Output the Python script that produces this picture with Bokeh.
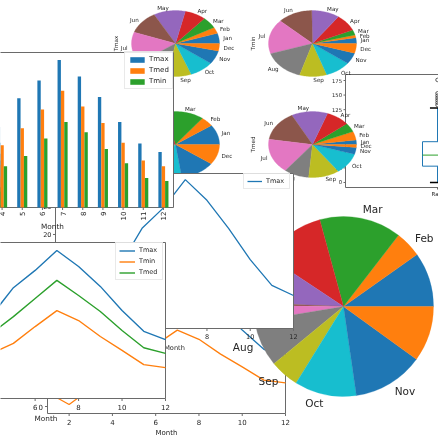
import numpy as np
from bokeh.plotting import figure
from bokeh.models import Range1d, Legend, LegendItem
from bokeh.core.properties import value
from bokeh.embed import file_html
from bokeh.resources import INLINE

# ---------------- data ----------------
months = [1, 2, 3, 4, 5, 6, 7, 8, 9, 10, 11, 12]
month_ticks = ["1", "2", "3", "4", "5", "6", "7", "8", "9", "10", "11", "12"]
month_names = ["Jan", "Feb", "Mar", "Apr", "May", "Jun",
               "Jul", "Aug", "Sep", "Oct", "Nov", "Dec"]

tmax = [10.5, 12.0, 14.5, 18.0, 24.4, 28.4, 33.0, 29.3, 24.7, 19.1, 14.3, 12.4]
tmin = [3.5, 0.5, 4.5, 9.2, 11.5, 15.4, 19.1, 16.8, 13.1, 9.9, 6.6, 5.9]
tmed = [7.0, 6.3, 9.5, 13.9, 17.7, 21.9, 26.1, 22.6, 18.9, 14.5, 10.5, 9.2]
tmax_single = [4.5, 5.5, 9.5, 14.6, 21.1, 24.8, 29.8, 26.1, 21.1, 15.5, 10.9, 9.1]

rain = [60, 29, 90, 70, 53, 3, 17, 51, 32, 68, 78, 61]
pie_tmax = [18, 11, 20, 28, 42, 41, 55, 45, 31, 32, 24, 13]
pie_tmin = [10, 5, 9, 30, 37, 46, 61, 55, 36, 34, 20, 17]
pie_tmed = [8, 15, 16, 31, 48, 53, 61, 33, 41, 37, 12, 5]

rain_box_label = ["Rain"]
rain_q1, rain_median, rain_q3 = 28, 47, 70
rain_whisker_lo, rain_whisker_hi = 0, 128
rain_outliers = [133, 137, 141, 145, 149, 153, 176]
box_ticks = [0, 25, 50, 75, 100, 125, 150, 175]

line_ticks = [2, 4, 6, 8, 10, 12]
tmax_single_yticks = [5, 10, 15, 20, 25, 30]
orange_yticks = [0, 10, 20, 30]

# ---------------- style ----------------
TAB10 = ["#1f77b4", "#ff7f0e", "#2ca02c", "#d62728", "#9467bd",
         "#8c564b", "#e377c2", "#7f7f7f", "#bcbd22", "#17becf"]
PIE_COLORS = [TAB10[i % 10] for i in range(12)]
FONT = "DejaVu Sans"
TXT = "#262626"
SPINE = "#6a6a6a"
W = H = 438
OX = OY = 0

xr, yr = {}, {}


def panel(name, box, xlim, ylim):
    left, top, right, bottom = box
    x0, x1 = xlim
    y0, y1 = ylim
    sx = (x1 - x0) / (right - left)
    sy = (y1 - y0) / (bottom - top)
    xr[name] = Range1d(x0 - (left - OX) * sx, x0 + (W - (left - OX)) * sx)
    yr[name] = Range1d(y0 - (H - (bottom - OY)) * sy, y1 + (top - OY) * sy)
    return dict(x_range_name=name, y_range_name=name)


def px_x(r, x):
    rng = xr[r["x_range_name"]]
    return (x - rng.start) / (rng.end - rng.start) * W


p = figure(width=W, height=H, x_range=Range1d(0, W), y_range=Range1d(0, H),
           output_backend="svg", toolbar_location=None, min_border=0,
           x_axis_location=None, y_axis_location=None,
           outline_line_color=None, background_fill_color="white",
           border_fill_color="white")
p.grid.visible = False
p.styles = {"position": "fixed", "left": "0px", "top": "0px"}


def txt(r, x, y, labels, size, align="center", baseline="top", xoff=0, yoff=0, angle=0.0):
    # drop labels that would lie (almost) entirely outside the window
    fs = float(size.replace("px", ""))
    kx, ky, kl = [], [], []
    for xi, yi, li in zip(x, y, labels):
        sx = px_x(r, xi) + xoff
        w = fs if angle else 0.62 * fs * len(li)
        if angle:
            lo, hi = sx - w / 2, sx + w / 2
        elif align == "left":
            lo, hi = sx, sx + w
        elif align == "right":
            lo, hi = sx - w, sx
        else:
            lo, hi = sx - w / 2, sx + w / 2
        vis = max(0.0, min(hi, W) - max(lo, 0.0)) / w
        if vis >= 0.25:
            kx.append(xi)
            ky.append(yi)
            kl.append(li)
    if not kl:
        return
    p.text(x=kx, y=ky, text=kl, text_align=align,
           text_baseline=baseline, x_offset=xoff, y_offset=yoff, angle=angle,
           text_font=value(FONT), text_font_size=size, text_color=TXT, **r)


def frame(r, xlim, ylim):
    p.quad(left=[xlim[0]], right=[xlim[1]], bottom=[ylim[0]], top=[ylim[1]],
           fill_color="white", line_color=SPINE, line_width=1, **r)


def xticks(r, ticks, ybase, length=2.5):
    p.ray(x=list(ticks), y=[ybase] * len(ticks), length=length, length_units="screen",
          angle=-np.pi / 2, line_color=SPINE, line_width=1, **r)


def yticks(r, ticks, xbase, length=2.5):
    p.ray(x=[xbase] * len(ticks), y=list(ticks), length=length, length_units="screen",
          angle=np.pi, line_color=SPINE, line_width=1, **r)


def pie_edges(vals):
    v = np.asarray(vals, dtype=float)
    e = np.concatenate([[0.0], np.cumsum(v)]) / v.sum() * 2 * np.pi
    return e[:-1], e[1:]


def pie_labels(r, a0, a1, size, dist=1.1):
    mid = (a0 + a1) / 2
    lx, ly = dist * np.cos(mid), dist * np.sin(mid)
    names = np.array(month_names)
    right = lx > 0
    txt(r, lx[right], ly[right], names[right], size, align="left", baseline="middle")
    txt(r, lx[~right], ly[~right], names[~right], size, align="right", baseline="middle")


# ---------- 1. boxplot (back) ----------
BOX_XLIM, BOX_YLIM = (0.5, 1.5), (-8.6, 185.3)
rb = panel("box", (345, 74, 529, 187), BOX_XLIM, BOX_YLIM)
frame(rb, BOX_XLIM, BOX_YLIM)
BW, CW = 0.0815, 0.041
p.quad(left=[1 - BW], right=[1 + BW], bottom=[rain_q1], top=[rain_q3],
       fill_color=None, line_color=TAB10[0], line_width=1, **rb)
p.segment(x0=[1, 1], y0=[rain_q3, rain_q1], x1=[1, 1], y1=[rain_whisker_hi, rain_whisker_lo],
          line_color=TAB10[0], line_width=1, **rb)
p.segment(x0=[1 - CW, 1 - CW], y0=[rain_whisker_hi, rain_whisker_lo],
          x1=[1 + CW, 1 + CW], y1=[rain_whisker_hi, rain_whisker_lo],
          line_color="black", line_width=1.5, **rb)
p.segment(x0=[1 - BW], y0=[rain_median], x1=[1 + BW], y1=[rain_median],
          line_color=TAB10[2], line_width=1, **rb)
p.scatter(x=[1] * len(rain_outliers), y=rain_outliers, marker="circle", size=3.5,
          fill_color=None, line_color="#333333", line_width=0.8, **rb)
yticks(rb, box_ticks, BOX_XLIM[0], 2)
txt(rb, [BOX_XLIM[0]] * len(box_ticks), box_ticks, [str(t) for t in box_ticks], "5.3px",
    align="right", baseline="middle", xoff=-3.5)
xticks(rb, [1], BOX_YLIM[0], 2)
txt(rb, [1], [BOX_YLIM[0]], rain_box_label, "5.5px", yoff=3.5)

# ---------- 2. grid of small pies ----------
PIE_RX, PIE_RY = 44, 33
small_pies = [("pie_ul", (175, 43), pie_tmax, "Tmax"),
              ("pie_ur", (312, 43), pie_tmin, "Tmin"),
              ("pie_ll", (175, 144), rain, "Prec"),
              ("pie_lr", (312, 144), pie_tmed, "Tmed")]
for name, (cx, cy), vals, lab in small_pies:
    r = panel(name, (cx - PIE_RX, cy - PIE_RY, cx + PIE_RX, cy + PIE_RY), (-1, 1), (-1, 1))
    a0, a1 = pie_edges(vals)
    xs, ys = [], []
    for s, e in zip(a0, a1):
        t = np.linspace(s, e, 24)
        xs.append([0.0] + list(np.cos(t)))
        ys.append([0.0] + list(np.sin(t)))
    p.patches(xs, ys, fill_color=PIE_COLORS, line_color=PIE_COLORS, line_width=0.3, **r)
    pie_labels(r, a0, a1, "5.6px")
    txt(r, [-1.36], [0], [lab], "5.6px", align="center", baseline="middle", angle=np.pi / 2)

# ---------- 3. line chart Tmax/Tmin (partly hidden) ----------
OR_XLIM, OR_YLIM = (1, 12), (-1.75, 34.6)
ro = panel("orange", (47, 267.6, 285, 413), OR_XLIM, OR_YLIM)
frame(ro, OR_XLIM, OR_YLIM)
p.line(months, tmax, line_color=TAB10[0], line_width=1.3, **ro)
p.line(months, tmin, line_color=TAB10[1], line_width=1.3, **ro)
xticks(ro, line_ticks, OR_YLIM[0])
txt(ro, line_ticks, [OR_YLIM[0]] * 6, [str(t) for t in line_ticks], "7px", yoff=5)
txt(ro, [6.5], [OR_YLIM[0]], ["Month"], "7px", baseline="middle", yoff=19)
yticks(ro, orange_yticks, OR_XLIM[0])
txt(ro, [OR_XLIM[0]] * len(orange_yticks), orange_yticks, [str(t) for t in orange_yticks], "7px",
    align="right", baseline="middle", xoff=-4.5)

# ---------- 4. big pie ----------
rp = panel("bigpie", (253, 216, 433, 396), (-1, 1), (-1, 1))
a0, a1 = pie_edges(rain)
p.wedge(x=0, y=0, radius=1, start_angle=list(a0), end_angle=list(a1),
        fill_color=PIE_COLORS, line_color=PIE_COLORS, line_width=0.3, **rp)
pie_labels(rp, a0, a1, "10.5px")

# ---------- 5. single Tmax line chart ----------
TM_XLIM, TM_YLIM = (1, 12), (3.21, 30.89)
rt = panel("tmax", (55, 173, 293, 328), TM_XLIM, TM_YLIM)
frame(rt, TM_XLIM, TM_YLIM)
lt = p.line(months, tmax_single, line_color=TAB10[0], line_width=1.3, **rt)
xticks(rt, line_ticks, TM_YLIM[0])
txt(rt, line_ticks, [TM_YLIM[0]] * 6, [str(t) for t in line_ticks], "6.5px", yoff=5)
txt(rt, [6.5], [TM_YLIM[0]], ["Month"], "6.6px", baseline="middle", yoff=19)
yticks(rt, tmax_single_yticks, TM_XLIM[0])
txt(rt, [TM_XLIM[0]] * len(tmax_single_yticks), tmax_single_yticks,
    [str(t) for t in tmax_single_yticks], "6.5px", align="right", baseline="middle", xoff=-4)

# ---------- 6. bar chart ----------
BAR_XLIM, BAR_YLIM = (0.5, 12.5), (0, 34.65)
rbar = panel("bar", (-69, 52, 173, 207), BAR_XLIM, BAR_YLIM)
frame(rbar, BAR_XLIM, BAR_YLIM)
bw = 0.5 / 3
bar_series = [("Tmax", tmax, TAB10[0], -bw), ("Tmed", tmed, TAB10[1], 0.0), ("Tmin", tmin, TAB10[2], bw)]
bar_renderers = []
for lab, vals, col, off in bar_series:
    rr = p.vbar(x=[m + off for m in months], top=vals, bottom=0, width=bw,
                fill_color=col, line_color=None, **rbar)
    bar_renderers.append((lab, rr))
xticks(rbar, months, BAR_YLIM[0])
txt(rbar, months, [BAR_YLIM[0]] * 12, month_ticks, "7px", align="right", baseline="middle",
    yoff=4, angle=np.pi / 2)
txt(rbar, [6.5], [BAR_YLIM[0]], ["Month"], "7.3px", baseline="middle", yoff=19)

# ---------- 7. three-line chart (front) ----------
L3_XLIM, L3_YLIM = (1, 12), (-1.25, 34.86)
rl = panel("line3", (-74, 242, 165, 398), L3_XLIM, L3_YLIM)
frame(rl, L3_XLIM, L3_YLIM)
l1 = p.line(months, tmax, line_color=TAB10[0], line_width=1.4, **rl)
l2 = p.line(months, tmin, line_color=TAB10[1], line_width=1.4, **rl)
l3 = p.line(months, tmed, line_color=TAB10[2], line_width=1.4, **rl)
xticks(rl, line_ticks, L3_YLIM[0])
txt(rl, line_ticks, [L3_YLIM[0]] * 6, [str(t) for t in line_ticks], "7px", yoff=5)
txt(rl, [6.5], [L3_YLIM[0]], ["Month"], "7.3px", baseline="middle", yoff=20)


# ---------- legends ----------
def add_legend(items, left, bottom, size, gw, gh, lh, spacing, pad, standoff):
    leg = Legend(items=items, location=(left - OX, H - (bottom - OY)), margin=0,
                 label_text_font=FONT, label_text_font_size=size, label_text_color=TXT,
                 glyph_width=gw, glyph_height=gh, label_height=lh, spacing=spacing,
                 padding=pad, label_standoff=standoff, border_line_color="#d3d3d3",
                 border_line_width=1, background_fill_color="white",
                 background_fill_alpha=0.85)
    p.add_layout(leg, "center")


add_legend([LegendItem(label=lab, renderers=[rr]) for lab, rr in bar_renderers],
           124, 89, "7px", 18, 7, 7, 3, 3, 3)
add_legend([LegendItem(label="Tmax", renderers=[lt])], 243, 189, "6.5px", 15, 6, 6, 2, 3, 4)
add_legend([LegendItem(label="Tmax", renderers=[l1]), LegendItem(label="Tmin", renderers=[l2]),
            LegendItem(label="Tmed", renderers=[l3])], 115, 280, "6.5px", 16, 7, 7, 3, 3, 4)

p.extra_x_ranges = xr
p.extra_y_ranges = yr

open("out.html", "w").write(file_html(p, INLINE))
